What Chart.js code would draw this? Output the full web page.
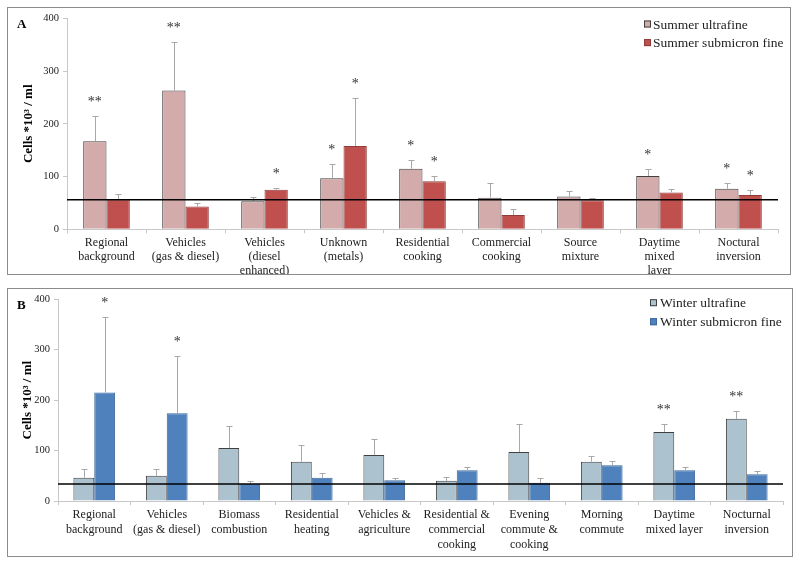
<!DOCTYPE html>
<html><head><meta charset="utf-8">
<script src="https://cdn.jsdelivr.net/npm/chart.js@4/dist/chart.umd.min.js"></script>
<style>
html,body{margin:0;padding:0;background:#fff;width:800px;height:564px;overflow:hidden;}
.panel{position:absolute;box-sizing:border-box;border:1px solid #8c8c8c;background:#fff;}
#pa{left:7px;top:7px;width:784px;height:268px;}
#pb{left:7px;top:288px;width:786px;height:269px;}
canvas{display:block;}
</style></head><body>
<div class="panel" id="pa"><canvas id="ca"></canvas></div>
<div class="panel" id="pb"><canvas id="cb"></canvas></div>
<script>
// ---------- Panel A (summer) ----------
const summerCategories = [
  ['Regional','background'], ['Vehicles','(gas & diesel)'], ['Vehicles','(diesel','enhanced)'],
  ['Unknown','(metals)'], ['Residential','cooking'], ['Commercial','cooking'],
  ['Source','mixture'], ['Daytime','mixed','layer'], ['Noctural','inversion']
];
const summerUltrafine    = [167, 263, 53, 97, 115, 60, 62, 101, 77];
const summerUltrafineErr = [47, 92, 8, 26, 16, 27, 11, 14, 10];
const summerSubmicron    = [57, 43, 75, 158, 91, 27, 55, 70, 65];
const summerSubmicronErr = [9, 7, 4, 90, 10, 11, 5, 7, 10];
const summerUltrafineSig = ['**','**','','*','*','','','*','*'];
const summerSubmicronSig = ['','','*','*','*','','','','*'];
const summerReference = 56;

// ---------- Panel B (winter) ----------
const winterCategories = [
  ['Regional','background'], ['Vehicles','(gas & diesel)'], ['Biomass','combustion'],
  ['Residential','heating'], ['Vehicles &','agriculture'], ['Residential &','commercial','cooking'],
  ['Evening','commute &','cooking'], ['Morning','commute'], ['Daytime','mixed layer'], ['Nocturnal','inversion']
];
const winterUltrafine    = [46, 50, 105, 78, 91, 40, 97, 78, 137, 163];
const winterUltrafineErr = [17, 14, 44, 34, 32, 8, 55, 11, 16, 16];
const winterSubmicron    = [215, 174, 34, 46, 41, 61, 36, 71, 61, 53];
const winterSubmicronErr = [150, 113, 5, 9, 4, 6, 9, 8, 6, 6];
const winterUltrafineSig = ['','','','','','','','','**','**'];
const winterSubmicronSig = ['*','*','','','','','','','',''];
const winterReference = 33.5;

const yTicks = [0, 100, 200, 300, 400];
const yTitle = 'Cells *10\u00B3 / ml';

const SERIF = '"Liberation Serif", "Times New Roman", serif';

const overlay = {
  id: 'overlay',
  afterDatasetsDraw(chart, args, opts) {
    const {ctx, chartArea: ca, scales: {y}} = chart;
    ctx.save();
    // error bars
    chart.data.datasets.forEach((ds, di) => {
      const meta = chart.getDatasetMeta(di);
      meta.data.forEach((bar, i) => {
        const top = Math.round(y.getPixelForValue(ds.data[i] + opts.errors[di][i])) + 0.5;
        const cx = Math.round(bar.x) + 0.5;
        ctx.strokeStyle = '#a8a8a8';
        ctx.lineWidth = 1;
        ctx.beginPath();
        ctx.moveTo(cx, bar.y); ctx.lineTo(cx, top);
        ctx.moveTo(cx - 3, top); ctx.lineTo(cx + 3, top);
        ctx.stroke();
        const s = opts.sig[di][i];
        if (s) {
          ctx.fillStyle = '#333';
          ctx.font = '14px ' + SERIF;
          ctx.textAlign = 'center';
          ctx.textBaseline = 'middle';
          ctx.fillText(s, bar.x, top - 14);
        }
      });
    });
    // reference line
    const ry = y.getPixelForValue(opts.ref);
    ctx.strokeStyle = '#000';
    ctx.lineWidth = 1.5;
    ctx.beginPath();
    ctx.moveTo(ca.left, ry); ctx.lineTo(ca.right, ry);
    ctx.stroke();
    // legend
    ctx.font = '13.5px ' + SERIF;
    ctx.textAlign = 'left';
    ctx.textBaseline = 'middle';
    chart.data.datasets.forEach((ds, di) => {
      const cy = ca.top + opts.legend.rows[di];
      const sx = ca.right - opts.legend.sq;
      ctx.fillStyle = ds.backgroundColor;
      ctx.fillRect(sx, cy - 3.5, 7, 7);
      ctx.strokeStyle = ds.borderColor;
      ctx.lineWidth = 1;
      ctx.strokeRect(sx + 0.5, cy - 3, 6, 6);
      ctx.fillStyle = '#222';
      ctx.fillText(ds.label, ca.right - opts.legend.tx, cy + 1);
    });
    // panel letter
    ctx.font = 'bold 13px ' + SERIF;
    ctx.fillStyle = '#000';
    ctx.textBaseline = 'alphabetic';
    ctx.fillText(opts.letter, 9, 19.5);
    ctx.restore();
  }
};

function makeChart(id, cats, series, cfg) {
  return new Chart(document.getElementById(id), {
    type: 'bar',
    data: { labels: cats, datasets: series },
    plugins: [overlay],
    options: {
      responsive: true,
      maintainAspectRatio: false,
      animation: false,
      layout: { padding: { left: 0, top: cfg.padTop, right: cfg.padRight, bottom: 0 } },
      datasets: { bar: { categoryPercentage: cfg.catPct, barPercentage: 1.0, borderWidth: 1 } },
      plugins: {
        legend: { display: false },
        tooltip: { enabled: false },
        overlay: cfg.overlay
      },
      scales: {
        x: {
          afterFit: (s) => { s.height = cfg.xHeight; },
          grid: { drawOnChartArea: false, drawTicks: true, tickLength: 4, color: '#c8c8c8', offset: true },
          border: { display: true, color: '#c8c8c8' },
          ticks: { autoSkip: false, maxRotation: 0, minRotation: 0, padding: 2, color: '#222',
                   font: { family: SERIF, size: 12, lineHeight: cfg.lineH } }
        },
        y: {
          min: 0, max: 400,
          afterFit: (s) => { s.width = cfg.yWidth; },
          afterBuildTicks: (s) => { s.ticks = yTicks.map(v => ({ value: v })); },
          grid: { drawOnChartArea: false, drawTicks: true, tickLength: 4, color: '#c8c8c8' },
          border: { display: true, color: '#c8c8c8' },
          ticks: { padding: 4, color: '#222', font: { family: SERIF, size: 10.5 } },
          title: { display: true, text: yTitle, color: '#000',
                   font: { family: SERIF, size: 13, weight: 'bold', lineHeight: 1.2 },
                   padding: { top: cfg.titlePad, bottom: 0 } }
        }
      }
    }
  });
}

makeChart('ca', summerCategories, [
  { label: 'Summer ultrafine', data: summerUltrafine, backgroundColor: '#d4abab', borderColor: '#404040' },
  { label: 'Summer submicron fine', data: summerSubmicron, backgroundColor: '#c0504d', borderColor: '#8e3b39' }
], {
  padTop: 9, padRight: 12, xHeight: 44.7, yWidth: 59, catPct: 0.59, lineH: 1.19, titlePad: 13,
  overlay: { ref: summerReference, errors: [summerUltrafineErr, summerSubmicronErr],
             sig: [summerUltrafineSig, summerSubmicronSig], letter: 'A',
             legend: { sq: 134, tx: 125, rows: [5.7, 24.3] } }
});

makeChart('cb', winterCategories, [
  { label: 'Winter ultrafine', data: winterUltrafine, backgroundColor: '#adc2cf', borderColor: '#404040' },
  { label: 'Winter submicron fine', data: winterSubmicron, backgroundColor: '#4f81bd', borderColor: '#3b679c' }
], {
  padTop: 10.3, padRight: 9, xHeight: 55, yWidth: 50, catPct: 0.575, lineH: 1.25, titlePad: 11.7,
  overlay: { ref: winterReference, errors: [winterUltrafineErr, winterSubmicronErr],
             sig: [winterUltrafineSig, winterSubmicronSig], letter: 'B',
             legend: { sq: 133, tx: 123, rows: [3.4, 22.4] } }
});
</script>
</body></html>
